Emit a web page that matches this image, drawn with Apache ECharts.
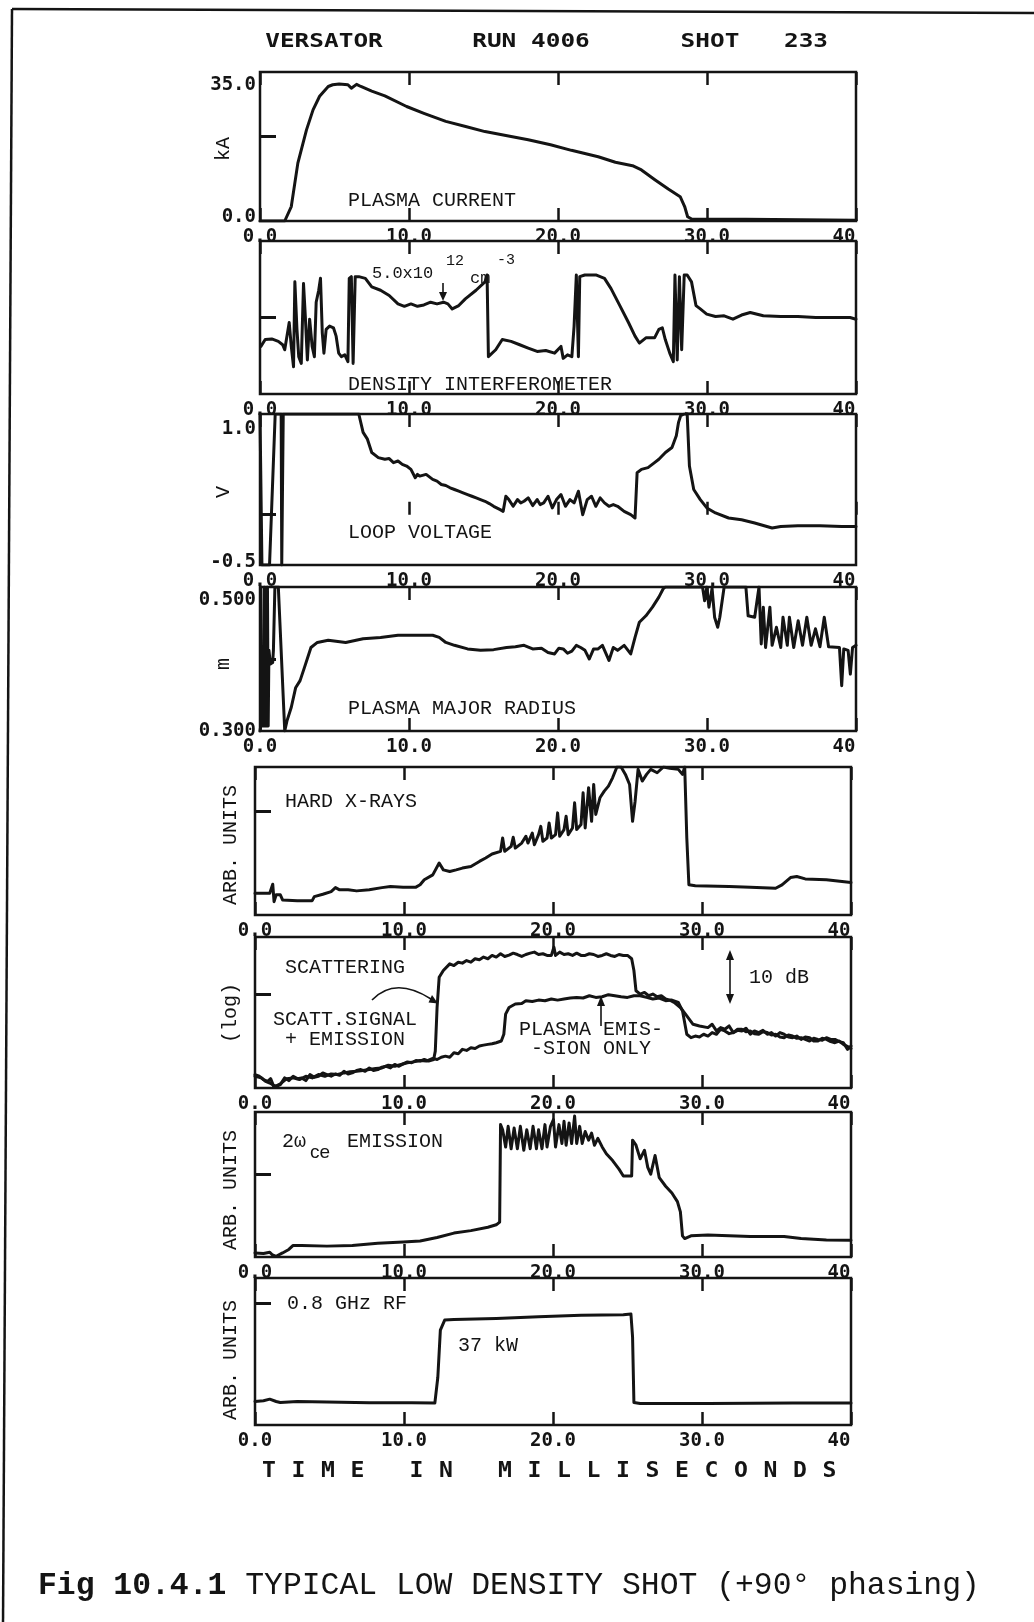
<!DOCTYPE html>
<html>
<head>
<meta charset="utf-8">
<script src="https://cdn.jsdelivr.net/npm/echarts@6/dist/echarts.min.js"></script>
<style>
  html, body { margin: 0; padding: 0; background: #fff; }
  #chart { width: 1034px; height: 1622px; }
</style>
</head>
<body>
<div id="chart"></div>
<script>
// ---- Versator run 4006, shot 233 : eight diagnostic traces vs. time (ms) ----

const timeTickLabels = ['0.0', '10.0', '20.0', '30.0', '40'];

// Plasma current (kA)
const plasmaCurrent = [[0,0],[1.66,0],[2.1,3.4],[2.54,13.6],[3.12,21.4],[3.56,26.1],[4.0,29.3],[4.58,31.6],[4.88,32.0],[5.31,32.2],[5.9,32.0],[6.13,31.2],[6.48,32.1],[6.77,31.6],[7.5,30.5],[8.38,29.4],[9.84,26.9],[11.0,25.3],[12.47,23.4],[13.8,22.2],[15.1,21.0],[16.5,20.1],[18.0,19.1],[19.5,17.9],[20.9,16.6],[22.7,15.1],[23.85,13.8],[25.0,13.0],[25.6,12.0],[26.5,9.7],[27.4,7.5],[28.2,5.7],[28.5,3.4],[28.7,1.0],[29.0,0.4],[32.6,0.4],[40,0.2]];
const currentAxisLabels = ['0.0', '35.0'];

// Density interferometer (arb., 0-100)
const densitySignal = [[0.06,31.1],[0.35,35.6],[0.79,36.0],[1.23,34.4],[1.52,32.2],[1.66,28.9],[1.96,46.7],[2.1,31.1],[2.25,17.8],[2.34,73.3],[2.48,42.2],[2.6,24.4],[2.77,20.0],[2.92,72.2],[3.04,51.1],[3.18,22.2],[3.33,48.9],[3.5,31.1],[3.65,24.4],[3.77,60.0],[3.94,67.8],[4.06,75.6],[4.18,40.0],[4.29,26.7],[4.44,42.2],[4.67,44.4],[4.93,43.3],[5.11,37.8],[5.28,26.7],[5.46,24.4],[5.69,25.6],[5.9,21.1],[5.99,75.6],[6.13,76.7],[6.25,20.0],[6.39,76.7],[6.63,76.7],[7.07,75.6],[7.5,70.0],[8.09,67.8],[8.67,64.4],[9.26,58.9],[9.69,57.3],[10.13,58.9],[10.57,57.3],[11.0,58.2],[11.45,60.0],[11.88,58.9],[12.32,60.0],[12.61,58.9],[12.9,55.6],[13.34,57.8],[13.78,62.2],[14.5,67.8],[15.1,73.3],[15.24,77.8],[15.33,24.4],[15.45,23.3],[15.82,28.9],[16.26,35.6],[16.85,34.4],[17.43,32.2],[18.0,30.0],[18.6,27.8],[19.18,28.4],[19.77,26.7],[20.2,31.1],[20.35,23.3],[20.64,25.6],[20.93,24.4],[21.08,44.4],[21.23,77.8],[21.37,24.4],[21.46,76.7],[21.8,77.8],[22.54,77.8],[23.12,75.6],[23.56,68.9],[24.15,57.8],[24.73,46.7],[25.17,37.8],[25.46,33.3],[25.9,36.7],[26.48,36.7],[26.77,42.2],[27.0,43.3],[27.2,35.6],[27.5,26.7],[27.74,21.1],[27.85,77.8],[28.0,22.2],[28.15,76.7],[28.3,28.9],[28.47,77.8],[28.67,77.8],[28.96,73.3],[29.26,57.8],[29.55,55.6],[29.98,52.2],[30.57,50.7],[31.15,51.1],[31.74,48.9],[32.32,51.6],[32.9,53.3],[33.78,51.1],[34.95,50.7],[36.1,50.7],[37.3,50.0],[38.45,50.0],[39.6,50.0],[40,48.9]];

// Loop voltage (V)
const loopVoltage = [[0,1.0],[0.12,1.0],[0.13,-0.5],[0.64,-0.5],[1.02,1.0],[1.42,1.0],[1.46,-0.5],[1.52,-0.5],[1.56,1.0],[6.63,1.0],[6.92,0.817],[7.21,0.75],[7.5,0.617],[7.94,0.567],[8.38,0.55],[8.67,0.557],[8.96,0.517],[9.26,0.533],[9.55,0.5],[9.84,0.483],[10.13,0.45],[10.42,0.367],[10.57,0.4],[10.72,0.383],[11.15,0.4],[11.59,0.35],[11.88,0.333],[12.17,0.3],[12.47,0.29],[12.76,0.267],[13.05,0.25],[13.34,0.233],[13.63,0.217],[13.93,0.2],[14.22,0.183],[14.51,0.167],[14.8,0.15],[15.1,0.133],[15.39,0.11],[15.68,0.083],[16.12,0.05],[16.32,0.033],[16.5,0.183],[16.7,0.15],[16.99,0.083],[17.28,0.15],[17.5,0.117],[17.72,0.133],[18.0,0.167],[18.3,0.09],[18.6,0.15],[18.8,0.1],[19.04,0.117],[19.33,0.183],[19.62,0.067],[19.9,0.15],[20.2,0.2],[20.5,0.083],[20.8,0.15],[21.08,0.117],[21.37,0.233],[21.66,0.0],[21.96,0.15],[22.25,0.183],[22.54,0.083],[22.83,0.167],[23.12,0.117],[23.42,0.083],[23.71,0.1],[24.0,0.083],[24.44,0.033],[24.88,0.0],[25.17,-0.033],[25.31,0.417],[25.6,0.45],[26.04,0.467],[26.48,0.517],[26.77,0.55],[27.21,0.617],[27.65,0.667],[27.94,0.783],[28.09,0.917],[28.23,0.983],[28.47,1.0],[28.67,1.0],[28.82,0.483],[29.11,0.25],[29.55,0.15],[29.99,0.067],[30.57,0.017],[31.45,-0.033],[32.32,-0.05],[33.2,-0.083],[34.37,-0.133],[34.95,-0.117],[36.1,-0.11],[37.58,-0.11],[39.04,-0.117],[40,-0.117]];
const voltageAxisLabels = ['-0.5', '1.0'];

// Plasma major radius (m)
const majorRadius = [[0,0.3],[0.05,0.307],[0.06,0.5],[0.1,0.307],[0.15,0.412],[0.18,0.307],[0.22,0.412],[0.25,0.307],[0.3,0.5],[0.33,0.307],[0.37,0.412],[0.4,0.307],[0.45,0.412],[0.5,0.5],[0.55,0.307],[0.6,0.412],[0.7,0.393],[0.85,0.395],[0.9,0.412],[1.0,0.5],[1.23,0.5],[1.66,0.3],[1.81,0.314],[2.1,0.333],[2.39,0.36],[2.69,0.37],[2.98,0.388],[3.42,0.416],[3.85,0.423],[4.58,0.426],[5.75,0.423],[6.92,0.428],[8.09,0.43],[9.26,0.433],[10.42,0.433],[11.59,0.433],[12.03,0.43],[12.47,0.423],[13.05,0.419],[13.93,0.414],[14.8,0.412],[15.68,0.413],[16.55,0.416],[17.14,0.417],[17.72,0.419],[18.3,0.414],[18.89,0.415],[19.33,0.409],[19.77,0.407],[20.06,0.415],[20.35,0.414],[20.64,0.408],[20.93,0.411],[21.23,0.419],[21.52,0.416],[21.81,0.412],[22.1,0.4],[22.39,0.414],[22.69,0.414],[22.98,0.419],[23.42,0.398],[23.71,0.416],[24.0,0.412],[24.44,0.419],[24.88,0.407],[25.17,0.43],[25.46,0.451],[25.9,0.46],[26.34,0.472],[26.77,0.486],[27.07,0.498],[27.21,0.5],[29.7,0.5],[29.84,0.481],[29.99,0.5],[30.13,0.472],[30.34,0.498],[30.51,0.458],[30.72,0.444],[30.86,0.458],[31.15,0.5],[32.61,0.5],[32.76,0.46],[33.2,0.458],[33.49,0.5],[33.64,0.421],[33.78,0.472],[33.93,0.416],[34.22,0.472],[34.37,0.419],[34.66,0.444],[34.95,0.416],[35.1,0.458],[35.39,0.419],[35.53,0.458],[35.82,0.416],[36.12,0.453],[36.41,0.419],[36.7,0.458],[36.99,0.419],[37.28,0.442],[37.58,0.417],[37.87,0.458],[38.16,0.417],[38.89,0.416],[39.04,0.363],[39.18,0.414],[39.47,0.412],[39.62,0.379],[39.77,0.416],[40,0.419]];
const radiusAxisLabels = ['0.300', '0.500'];

// Hard X-rays (arb.)
const hardXrays = [[0,14.7],[0.99,14.7],[1.19,20.8],[1.28,9.0],[1.42,13.6],[1.7,13.6],[1.85,10.2],[2.84,9.7],[3.84,9.7],[3.98,12.4],[4.55,14.0],[5.11,15.8],[5.4,18.5],[5.68,17.0],[6.25,17.0],[6.82,16.3],[7.67,17.0],[8.52,18.5],[9.09,19.2],[9.94,18.8],[10.8,18.8],[11.08,20.4],[11.36,23.8],[11.93,27.1],[12.36,35.1],[12.64,30.5],[13.07,29.4],[13.5,30.5],[13.92,31.7],[14.49,32.8],[15.06,36.2],[15.48,38.5],[15.91,41.2],[16.48,43.0],[16.62,52.0],[16.76,43.0],[17.19,46.4],[17.33,52.5],[17.47,45.2],[17.9,48.6],[18.18,53.2],[18.32,48.6],[18.61,55.4],[18.75,47.5],[19.03,54.3],[19.18,59.9],[19.32,49.8],[19.6,52.0],[19.74,62.2],[19.89,52.0],[20.17,54.3],[20.31,69.0],[20.45,53.2],[20.74,57.7],[20.88,66.7],[21.02,54.3],[21.31,58.8],[21.45,75.8],[21.59,57.7],[21.88,61.1],[22.02,82.6],[22.16,58.8],[22.39,86.0],[22.59,63.3],[22.73,88.2],[22.87,67.9],[23.15,79.2],[23.44,83.7],[23.72,87.1],[24.0,92.7],[24.29,100],[24.57,100],[24.86,95.0],[25.14,88.2],[25.34,63.3],[25.51,76.9],[25.71,98.4],[25.99,90.5],[26.28,95.0],[26.56,98.4],[26.99,96.1],[27.41,100],[27.84,99.1],[28.41,98.4],[28.69,95.0],[28.84,100],[28.98,52.0],[29.12,20.4],[29.55,19.7],[31.82,19.2],[33.24,18.8],[34.94,18.1],[35.37,20.4],[35.94,25.3],[36.36,26.0],[36.93,24.4],[38.35,23.8],[40,21.9]];

// Scattering receiver, log scale: scattered signal + emission
const scatteringSignal = [[0,8.9],[0.28,7.8],[0.57,5.6],[0.85,4.4],[1.05,6.2],[1.28,0.4],[1.7,2.2],[1.99,6.7],[2.27,4.9],[2.56,7.8],[2.84,6.2],[3.13,6.7],[3.41,4.9],[3.69,8.9],[3.98,7.1],[4.26,7.8],[4.55,10.0],[4.83,8.9],[5.11,7.8],[5.4,9.3],[5.68,8.4],[5.97,11.1],[6.25,9.3],[6.53,10.0],[6.82,11.6],[7.1,12.2],[7.39,11.1],[7.67,13.3],[7.95,11.6],[8.24,12.2],[8.52,13.8],[8.81,14.4],[9.09,13.3],[9.38,15.6],[9.66,14.4],[9.94,16.0],[10.23,17.3],[10.51,16.7],[10.8,18.2],[11.08,17.8],[11.36,18.9],[11.65,17.8],[11.99,18.9],[12.1,24.4],[12.22,53.3],[12.36,73.3],[12.64,77.8],[13.07,82.2],[13.35,81.1],[13.64,83.3],[13.92,82.7],[14.2,84.4],[14.49,83.3],[14.77,85.6],[15.06,84.9],[15.34,86.7],[15.63,85.6],[15.91,87.8],[16.19,86.7],[16.48,88.9],[16.76,87.1],[17.05,88.0],[17.33,89.3],[17.61,88.4],[17.9,87.1],[18.18,88.4],[18.47,89.3],[18.75,90.0],[19.03,88.4],[19.32,88.9],[19.6,87.8],[19.89,87.8],[20.06,93.3],[20.17,87.8],[20.45,90.0],[20.74,88.4],[21.02,88.9],[21.31,87.8],[21.59,89.3],[21.88,87.8],[22.16,87.8],[22.44,88.9],[22.73,88.4],[23.01,87.1],[23.3,87.8],[23.58,88.9],[23.86,87.8],[24.15,87.1],[24.43,88.4],[24.72,87.8],[25.0,87.8],[25.28,85.6],[25.43,77.8],[25.57,64.4],[25.85,62.2],[26.14,63.3],[26.42,61.1],[26.7,62.2],[26.99,60.4],[27.27,61.1],[27.56,58.9],[27.84,58.2],[28.13,56.7],[28.55,53.3],[28.98,47.8],[29.4,42.2],[29.83,41.1],[30.4,40.0],[30.68,42.2],[30.97,37.8],[31.25,40.0],[31.53,38.9],[31.82,41.1],[32.1,36.7],[32.39,38.2],[32.67,37.8],[32.95,39.6],[33.24,35.6],[33.52,37.8],[33.81,36.7],[34.09,38.2],[34.38,35.6],[34.66,36.7],[34.94,34.4],[35.23,36.7],[35.51,35.6],[35.8,33.8],[36.08,33.3],[36.36,34.4],[36.65,32.2],[36.93,33.8],[37.22,33.3],[37.5,31.1],[37.78,31.1],[38.07,32.9],[38.35,32.2],[38.64,30.7],[38.92,30.0],[39.2,31.1],[39.49,28.9],[39.91,26.7],[40,26.2]];

// Scattering receiver, log scale: plasma emission only
const plasmaEmissionOnly = [[0,7.8],[0.43,6.7],[0.71,4.4],[0.99,3.3],[1.36,1.1],[1.7,2.7],[2.13,6.2],[2.56,6.7],[2.98,5.6],[3.41,7.8],[3.84,6.7],[4.26,8.9],[4.69,7.8],[5.11,9.3],[5.54,8.9],[5.97,10.0],[6.39,10.7],[6.82,11.1],[7.24,11.6],[7.67,12.2],[8.1,12.9],[8.52,13.3],[8.95,15.1],[9.38,14.4],[9.8,15.6],[10.23,16.7],[10.65,17.3],[11.08,18.2],[11.5,17.8],[11.93,19.6],[12.22,18.9],[12.5,20.4],[12.78,21.1],[13.07,20.4],[13.35,23.3],[13.64,22.7],[13.92,25.6],[14.2,24.9],[14.49,26.7],[14.77,26.2],[15.06,27.8],[15.34,28.4],[15.63,28.9],[15.91,29.3],[16.19,30.0],[16.53,31.1],[16.7,35.6],[16.82,48.9],[17.05,53.3],[17.47,55.6],[17.9,56.0],[18.18,57.8],[18.61,57.3],[19.03,58.2],[19.46,57.8],[19.89,58.9],[20.31,58.2],[20.74,58.9],[21.16,59.6],[21.59,60.0],[22.02,59.6],[22.44,61.1],[22.87,60.0],[23.3,60.4],[23.72,61.8],[24.15,61.1],[24.57,60.4],[25.0,60.0],[25.43,61.1],[25.85,61.1],[26.28,60.0],[26.7,58.9],[27.13,59.6],[27.56,57.8],[27.98,58.2],[28.41,56.7],[28.69,51.1],[28.98,35.6],[29.26,33.3],[29.55,34.4],[29.83,33.8],[30.11,35.6],[30.4,34.4],[30.68,36.7],[30.97,35.6],[31.25,38.9],[31.53,37.8],[31.82,36.0],[32.1,36.7],[32.39,38.9],[32.67,38.9],[32.95,37.3],[33.24,37.8],[33.52,36.0],[33.81,35.6],[34.09,37.3],[34.38,36.7],[34.66,35.1],[34.94,35.6],[35.23,33.8],[35.51,33.3],[35.8,35.1],[36.08,34.4],[36.36,32.9],[36.65,33.3],[36.93,32.2],[37.22,31.1],[37.5,32.9],[37.78,32.2],[38.07,31.6],[38.35,33.3],[38.64,32.2],[38.92,32.2],[39.2,30.7],[39.49,30.0],[39.77,25.6],[40,27.8]];

// Second-harmonic electron cyclotron emission (arb.)
const eceEmission = [[0,2.8],[0.57,2.4],[0.99,3.3],[1.14,1.7],[1.42,0.5],[1.85,2.8],[2.27,5.2],[2.56,8.0],[3.13,8.0],[4.83,7.5],[6.53,8.0],[8.24,9.4],[9.94,10.4],[11.08,11.1],[12.22,13.4],[13.35,16.5],[14.49,18.2],[15.63,20.5],[16.19,22.2],[16.42,24.1],[16.48,91.3],[16.62,87.7],[16.82,75.9],[16.99,90.1],[17.19,74.7],[17.39,88.9],[17.61,74.7],[17.81,90.1],[18.04,73.6],[18.24,87.7],[18.47,74.7],[18.66,90.1],[18.89,74.7],[19.03,87.7],[19.26,74.7],[19.46,91.3],[19.6,75.9],[19.83,90.1],[20.03,94.8],[20.17,75.9],[20.4,91.3],[20.6,78.3],[20.74,93.6],[20.88,77.1],[21.08,92.4],[21.25,78.3],[21.45,97.2],[21.59,78.3],[21.79,90.1],[21.96,78.3],[22.16,86.5],[22.39,80.6],[22.59,85.4],[22.78,77.1],[23.01,81.8],[23.3,75.9],[23.58,71.2],[24.0,66.5],[24.43,60.6],[24.72,55.9],[25.28,55.9],[25.34,80.6],[25.57,77.1],[25.85,67.7],[26.14,73.6],[26.36,61.8],[26.56,57.1],[26.85,70.0],[27.13,54.7],[27.56,48.8],[27.98,44.1],[28.35,38.2],[28.55,31.1],[28.69,14.6],[28.84,12.7],[29.26,14.6],[30.4,15.1],[31.82,14.6],[33.24,14.1],[35.51,14.1],[36.65,12.7],[38.35,11.8],[40,11.6]];

// 0.8 GHz RF forward power (arb.)
const rfPower = [[0,16.0],[0.57,16.5],[0.99,17.6],[1.42,16.0],[1.7,15.3],[2.84,16.0],[4.83,15.6],[7.67,15.1],[10.51,15.1],[12.07,14.9],[12.27,32.5],[12.44,64.5],[12.73,71.4],[13.35,71.8],[16.19,72.5],[19.03,73.7],[21.88,74.6],[24.72,75.0],[25.23,75.5],[25.34,59.9],[25.43,15.3],[25.85,14.6],[30.4,14.6],[36.08,14.9],[40,14.9]];

// ---- layout and styling ----
const INK = '#141414';
const PLOT_FONT = '"DejaVu Sans Mono", monospace';
const TYPE_FONT = '"Liberation Mono", "Courier New", monospace';

const panels = [
  { top: 72,   height: 149, left: 260, min: 0,    max: 35,  tick: 20,  labels: currentAxisLabels, pad: [26, 8], series: [plasmaCurrent] },
  { top: 241,  height: 153, left: 260, min: 0,    max: 100, tick: 50,  series: [densitySignal] },
  { top: 414,  height: 151, left: 260, min: -0.5, max: 1.0, tick: 0,   labels: voltageAxisLabels, pad: [30, 6], series: [loopVoltage] },
  { top: 587,  height: 144, left: 260, min: 0.3,  max: 0.5, tick: 0.4, labels: radiusAxisLabels, pad: [26, 0], series: [majorRadius] },
  { top: 767,  height: 148, left: 255, min: 0,    max: 100, tick: 70,  series: [hardXrays] },
  { top: 937,  height: 151, left: 255, min: 0,    max: 100, tick: 62,  series: [scatteringSignal, plasmaEmissionOnly] },
  { top: 1112, height: 145, left: 255, min: 0,    max: 100, tick: 57,  series: [eceEmission] },
  { top: 1278, height: 147, left: 255, min: 0,    max: 100, tick: 83,  series: [rfPower] }
];
const PANEL_WIDTH = 596;

const grids = [], xAxes = [], topAxes = [], yAxes = [], seriesList = [];

panels.forEach((p, i) => {
  grids.push({
    left: p.left, top: p.top, width: PANEL_WIDTH, height: p.height,
    show: true, borderColor: INK, borderWidth: 2.5, backgroundColor: 'transparent'
  });

  xAxes.push({
    gridIndex: i, type: 'value', position: 'bottom', min: 0, max: 40, interval: 10,
    axisLine: { show: false }, splitLine: { show: false },
    axisTick: { show: true, inside: true, length: 13, lineStyle: { color: INK, width: 2.5 } },
    axisLabel: {
      show: true, margin: 7, color: INK, fontFamily: PLOT_FONT, fontSize: 19, fontWeight: 'bold',
      formatter: v => {
        const s = timeTickLabels[Math.round(v / 10)];
        return v === 40 ? '{end|' + s + '}' : s;
      },
      rich: { end: { padding: [0, 24, 0, 0], fontFamily: PLOT_FONT, fontSize: 19, fontWeight: 'bold', color: INK } }
    }
  });

  topAxes.push({
    gridIndex: i, type: 'value', position: 'top', min: 0, max: 40, interval: 10,
    axisLine: { show: false }, splitLine: { show: false }, axisLabel: { show: false },
    axisTick: { show: true, inside: true, length: 13, lineStyle: { color: INK, width: 2.5 } }
  });

  const lbl = p.labels;
  yAxes.push({
    gridIndex: i, type: 'value', min: p.min, max: p.max,
    axisLine: { show: false }, splitLine: { show: false },
    axisTick: { show: true, inside: true, length: 16, customValues: [p.tick], lineStyle: { color: INK, width: 3 } },
    axisLabel: lbl ? {
      show: true, margin: 4, color: INK, fontFamily: PLOT_FONT, fontSize: 19, fontWeight: 'bold',
      customValues: [p.min, p.max],
      formatter: v => (Math.abs(v - p.max) < 1e-9 ? '{hi|' + lbl[1] + '}' : '{lo|' + lbl[0] + '}'),
      rich: {
        hi: { padding: [p.pad[0], 0, 0, 0], fontFamily: PLOT_FONT, fontSize: 19, fontWeight: 'bold', color: INK },
        lo: { padding: [0, 0, p.pad[1], 0], fontFamily: PLOT_FONT, fontSize: 19, fontWeight: 'bold', color: INK }
      }
    } : { show: false }
  });

  p.series.forEach(d => {
    seriesList.push({
      type: 'line', xAxisIndex: i, yAxisIndex: i, data: d,
      showSymbol: false, symbol: 'none', clip: true, silent: true,
      lineStyle: { color: INK, width: 3, join: 'round', cap: 'round' }
    });
  });
});

// ---- text, arrows and frame drawn on top of the panels ----
const g = [];
function txt(x, y, text, font, extra) {
  g.push(Object.assign({
    type: 'text', x: x, y: y, silent: true, z: 50,
    style: { text: text, font: font, fill: INK, textAlign: 'left', textVerticalAlign: 'middle' }
  }, extra || {}));
}
function seg(x1, y1, x2, y2, w) {
  g.push({ type: 'line', silent: true, z: 50, shape: { x1, y1, x2, y2 }, style: { stroke: INK, lineWidth: w || 2 } });
}
function head(points) {
  g.push({ type: 'polygon', silent: true, z: 50, shape: { points: points }, style: { fill: INK } });
}
const TYPE20 = '20px ' + TYPE_FONT;

// sheet frame
seg(12, 9, 1034, 13, 2.5);
seg(12, 9, 3, 1622, 2.5);

// header
const headerItems = [['VERSATOR', 324], ['RUN 4006', 531], ['SHOT', 710], ['233', 806]];
headerItems.forEach(([t, x]) => txt(x, 42, t, 'bold 20px ' + PLOT_FONT,
  { scaleX: 1.22, style: { text: t, font: 'bold 20px ' + PLOT_FONT, fill: INK, textAlign: 'center', textVerticalAlign: 'middle' } }));

// vertical axis titles
function vtitle(x, y, t) {
  g.push({ type: 'text', x: x, y: y, rotation: Math.PI / 2, silent: true, z: 50,
    style: { text: t, font: TYPE20, fill: INK, textAlign: 'center', textVerticalAlign: 'middle' } });
}
vtitle(224, 149, 'kA');
vtitle(224, 492, 'V');
vtitle(224, 664, 'm');
vtitle(231, 845, 'ARB. UNITS');
vtitle(231, 1013, '(log)');
vtitle(231, 1190, 'ARB. UNITS');
vtitle(231, 1360, 'ARB. UNITS');

// panel captions
txt(348, 201, 'PLASMA CURRENT', TYPE20);
txt(372, 273, '5.0x10', '17px ' + TYPE_FONT);
txt(446, 261, '12', '15px ' + TYPE_FONT);
txt(470, 278, 'cm', '17px ' + TYPE_FONT);
txt(497, 260, '-3', '15px ' + TYPE_FONT);
seg(443, 283, 443, 294, 1.6);
head([[443, 301], [439, 292], [447, 292]]);
txt(348, 385, 'DENSITY INTERFEROMETER', TYPE20);
txt(348, 533, 'LOOP VOLTAGE', TYPE20);
txt(348, 709, 'PLASMA MAJOR RADIUS', TYPE20);
txt(285, 802, 'HARD X-RAYS', TYPE20);
txt(285, 968, 'SCATTERING', TYPE20);
txt(273, 1020, 'SCATT.SIGNAL', TYPE20);
txt(285, 1040, '+ EMISSION', TYPE20);
txt(519, 1030, 'PLASMA EMIS-', TYPE20);
txt(531, 1049, '-SION ONLY', TYPE20);
txt(749, 978, '10 dB', TYPE20);
// curved pointer to the scattering rise
g.push({ type: 'bezierCurve', silent: true, z: 50,
  shape: { x1: 372, y1: 1000, cpx1: 395, cpy1: 976, x2: 431, y2: 999 },
  style: { stroke: INK, lineWidth: 1.6, fill: null } });
head([[438, 1003.5], [428.5, 1002.5], [432, 995]]);
// pointer to the emission-only trace
seg(601, 1026, 601, 1004, 1.6);
head([[601, 996], [597, 1006], [605, 1006]]);
// 10 dB scale bar
seg(730, 958, 730, 996, 1.6);
head([[730, 950], [726, 960], [734, 960]]);
head([[730, 1004], [726, 994], [734, 994]]);

txt(282, 1142, '2\u03c9', TYPE20);
txt(310, 1153, 'ce', '19px "Liberation Sans", Arial, sans-serif');
txt(347, 1142, 'EMISSION', TYPE20);
txt(287, 1304, '0.8 GHz RF', TYPE20);
txt(458, 1346, '37 kW', TYPE20);

// shared time axis title, spaced plotter lettering
const timeTitle = 'TIME IN MILLISECONDS';
for (let k = 0; k < timeTitle.length; k++) {
  const ch = timeTitle[k];
  if (ch === ' ') continue;
  g.push({ type: 'text', x: 269 + k * 29.5, y: 1472, scaleX: 1.1, silent: true, z: 50,
    style: { text: ch, font: 'bold 21px ' + PLOT_FONT, fill: INK, textAlign: 'center', textVerticalAlign: 'middle' } });
}

// figure caption
g.push({ type: 'text', x: 38, y: 1586, silent: true, z: 50,
  style: {
    text: '{b|Fig 10.4.1} TYPICAL LOW DENSITY SHOT (+90\u00b0 phasing)',
    fontFamily: TYPE_FONT, fontSize: 31.4, fill: INK, textAlign: 'left', textVerticalAlign: 'middle',
    rich: { b: { fontFamily: TYPE_FONT, fontSize: 31.4, fontWeight: 'bold', fill: INK } }
  } });

const chart = echarts.init(document.getElementById('chart'), null, { renderer: 'canvas' });
chart.setOption({
  backgroundColor: '#ffffff',
  animation: false,
  grid: grids,
  xAxis: xAxes.concat(topAxes),
  yAxis: yAxes,
  series: seriesList,
  graphic: g
});
</script>
</body>
</html>
